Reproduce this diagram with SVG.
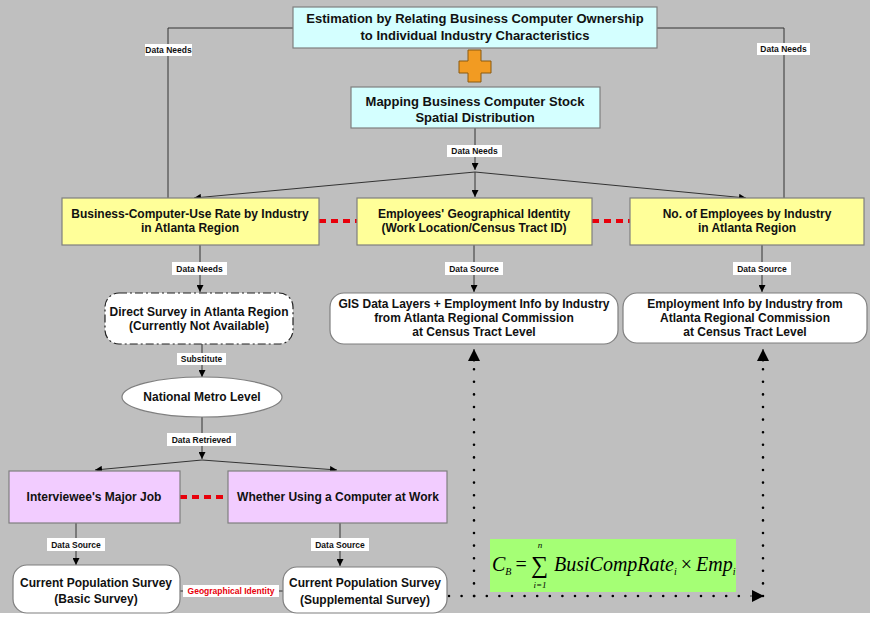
<svg xmlns="http://www.w3.org/2000/svg" width="870" height="617" viewBox="0 0 870 617">
<defs>
<style>
.bx{stroke:#7f7f7f;stroke-width:1.2}
.t{font-family:"Liberation Sans",Arial,sans-serif;font-weight:bold;font-size:12px;text-anchor:middle;fill:#111}
.tb{font-size:13px}
.l{font-family:"Liberation Sans",Arial,sans-serif;font-weight:bold;font-size:8.5px;text-anchor:middle;fill:#111}
.lr{fill:#fff}
.c{fill:none;stroke:#333;stroke-width:1}
.rd{fill:none;stroke:#e8000b;stroke-width:4;stroke-dasharray:7 5}
.dt{fill:none;stroke:#000;stroke-width:2.6;stroke-linecap:round;stroke-dasharray:0 12.6}
.m{font-family:"Liberation Serif","Times New Roman",serif;font-style:italic;fill:#000}
.up{font-style:normal}
</style>
<marker id="a" viewBox="0 0 10 10" refX="10" refY="5" markerWidth="7" markerHeight="7" markerUnits="userSpaceOnUse" orient="auto"><path d="M0,0L10,5L0,10z" fill="#000"/></marker>
<marker id="b" viewBox="0 0 10 10" refX="10" refY="5" markerWidth="13" markerHeight="12" markerUnits="userSpaceOnUse" orient="auto"><path d="M0,0L10,5L0,10z" fill="#000"/></marker>
</defs>
<rect x="0" y="0" width="870" height="617" fill="#bfbfbf"/>
<rect x="0" y="613" width="870" height="4" fill="#fff"/>

<g id="connectors">
<polyline class="c" points="293,28 168,28 168,198"/>
<polyline class="c" points="657,28 784,28 784,198"/>
<line class="c" x1="475" y1="128" x2="475" y2="170" marker-end="url(#a)"/>
<line class="c" x1="475" y1="172" x2="475" y2="197" marker-end="url(#a)"/>
<line class="c" x1="475" y1="172" x2="194" y2="198" marker-end="url(#a)"/>
<line class="c" x1="475" y1="172" x2="746" y2="198" marker-end="url(#a)"/>
<line class="rd" x1="319" y1="221" x2="357" y2="221"/>
<line class="rd" x1="592" y1="221" x2="630" y2="221"/>
<line class="c" x1="200" y1="245" x2="200" y2="292" marker-end="url(#a)"/>
<line class="c" x1="474" y1="245" x2="474" y2="292" marker-end="url(#a)"/>
<line class="c" x1="762" y1="245" x2="762" y2="292" marker-end="url(#a)"/>
<line class="c" x1="202" y1="344" x2="202" y2="377" marker-end="url(#a)"/>
<line class="c" x1="202" y1="417" x2="202" y2="459" marker-end="url(#a)"/>
<line class="c" x1="202" y1="460" x2="95" y2="470" marker-end="url(#a)"/>
<line class="c" x1="202" y1="460" x2="337" y2="470" marker-end="url(#a)"/>
<line class="rd" x1="180" y1="497" x2="228" y2="497"/>
<line class="c" x1="76" y1="523" x2="76" y2="565" marker-end="url(#a)"/>
<line class="c" x1="340" y1="523" x2="340" y2="566" marker-end="url(#a)"/>
<line class="c" x1="180" y1="591" x2="283" y2="591" stroke="#999"/>
<line class="dt" x1="449" y1="596" x2="750" y2="596"/>
<line class="c" x1="750" y1="596" x2="764" y2="596" stroke="none" marker-end="url(#b)"/>
<line class="dt" x1="474" y1="596" x2="474" y2="362"/>
<line class="c" x1="474" y1="362" x2="474" y2="349" stroke="none" marker-end="url(#b)"/>
<line class="dt" x1="763" y1="596" x2="763" y2="362"/>
<line class="c" x1="763" y1="362" x2="763" y2="349" stroke="none" marker-end="url(#b)"/>

<rect class="lr" x="145" y="44" width="47" height="12"/><text class="l" x="168.5" y="53" font-weight="normal">Data Needs</text>
<rect class="lr" x="757" y="43" width="53" height="12"/><text class="l" x="783.5" y="52" font-weight="normal">Data Needs</text>
<rect class="lr" x="447" y="145" width="55" height="12"/><text class="l" x="474.5" y="154">Data Needs</text>
<rect class="lr" x="172" y="262" width="55" height="13"/><text class="l" x="199.5" y="271.5">Data Needs</text>
<rect class="lr" x="445" y="262" width="58" height="13"/><text class="l" x="474" y="271.5">Data Source</text>
<rect class="lr" x="733" y="262" width="58" height="13"/><text class="l" x="762" y="271.5">Data Source</text>
<rect class="lr" x="177" y="353" width="49" height="12"/><text class="l" x="201.5" y="362">Substitute</text>
<rect class="lr" x="167" y="433" width="69" height="13"/><text class="l" x="201.5" y="442.5">Data Retrieved</text>
<rect class="lr" x="47" y="538" width="58" height="13"/><text class="l" x="76" y="547.5">Data Source</text>
<rect class="lr" x="311" y="538" width="58" height="13"/><text class="l" x="340" y="547.5">Data Source</text>
<rect class="lr" x="183" y="585" width="96" height="12"/><text class="l" x="231" y="594" style="fill:#e8000b">Geographical Identity</text>
</g>

<g id="n-estimation">
<rect class="bx" x="293" y="7" width="364" height="41" fill="#d4ffff"/>
<text class="t tb" x="475" y="22.5">Estimation by Relating Business Computer Ownership</text>
<text class="t tb" x="475" y="39.5">to Individual Industry Characteristics</text>
</g>
<g id="n-plus">
<path d="M468,50H481V61H491V73H481V82H468V73H459V61H468Z" fill="#f29b22" stroke="#8a5a10" stroke-width="1"/>
</g>
<g id="n-mapping">
<rect class="bx" x="351" y="87" width="249" height="41" fill="#d4ffff"/>
<text class="t tb" x="475" y="105.5">Mapping Business Computer Stock</text>
<text class="t tb" x="475" y="121.5">Spatial Distribution</text>
</g>
<g id="n-rate">
<rect class="bx" x="62" y="198" width="257" height="47" fill="#ffff99"/>
<text class="t" x="190" y="218">Business-Computer-Use Rate by Industry</text>
<text class="t" x="190" y="232">in Atlanta Region</text>
</g>
<g id="n-geoid">
<rect class="bx" x="357" y="198" width="235" height="47" fill="#ffff99"/>
<text class="t" x="474" y="218">Employees' Geographical Identity</text>
<text class="t" x="474" y="232">(Work Location/Census Tract ID)</text>
</g>
<g id="n-employees">
<rect class="bx" x="630" y="198" width="234" height="47" fill="#ffff99"/>
<text class="t" x="747" y="218">No. of Employees by Industry</text>
<text class="t" x="747" y="232">in Atlanta Region</text>
</g>
<g id="n-direct">
<rect x="105" y="293" width="188" height="51" rx="14" fill="#fff" stroke="#222" stroke-width="1.2" stroke-dasharray="8 3 2 3"/>
<text class="t" x="199" y="316">Direct Survey in Atlanta Region</text>
<text class="t" x="199" y="330">(Currently Not Available)</text>
</g>
<g id="n-gis">
<rect class="bx" x="330" y="293" width="288" height="51" rx="14" fill="#fff"/>
<text class="t" x="474" y="308">GIS Data Layers + Employment Info by Industry</text>
<text class="t" x="474" y="322">from Atlanta Regional Commission</text>
<text class="t" x="474" y="336">at Census Tract Level</text>
</g>
<g id="n-empinfo">
<rect class="bx" x="623" y="293" width="244" height="50" rx="14" fill="#fff"/>
<text class="t" x="745" y="308">Employment Info by Industry from</text>
<text class="t" x="745" y="322">Atlanta Regional Commission</text>
<text class="t" x="745" y="336">at Census Tract Level</text>
</g>
<g id="n-metro">
<ellipse class="bx" cx="202" cy="397" rx="80" ry="20" fill="#fff"/>
<text class="t" x="202" y="401">National Metro Level</text>
</g>
<g id="n-job">
<rect class="bx" x="9" y="471" width="171" height="52" fill="#f2ccff"/>
<text class="t" x="94" y="501">Interviewee's Major Job</text>
</g>
<g id="n-computer">
<rect class="bx" x="228" y="471" width="219" height="52" fill="#f2ccff"/>
<text class="t" x="338" y="501">Whether Using a Computer at Work</text>
</g>
<g id="n-basic">
<rect class="bx" x="13" y="565" width="167" height="48" rx="14" fill="#fff"/>
<text class="t" x="96" y="587">Current Population Survey</text>
<text class="t" x="96" y="603">(Basic Survey)</text>
</g>
<g id="n-supp">
<rect class="bx" x="283" y="567" width="164" height="46" rx="14" fill="#fff"/>
<text class="t" x="365" y="587">Current Population Survey</text>
<text class="t" x="365" y="604">(Supplemental Survey)</text>
</g>
<g id="n-formula">
<rect x="490" y="539" width="246" height="53" fill="#a5ff75"/>
<text class="m" x="492" y="571" font-size="20">C<tspan font-size="10" dy="4">B</tspan><tspan class="up" dy="-4" dx="4">=</tspan></text>
<text x="531" y="573" font-size="24" font-family="Liberation Serif,serif">∑</text>
<text class="m" x="540" y="548" font-size="9" text-anchor="middle">n</text>
<text class="m" x="540" y="588" font-size="9" text-anchor="middle">i=1</text>
<text class="m" x="554" y="571" font-size="20">BusiCompRate<tspan font-size="10" dy="4">i</tspan><tspan class="up" dy="-4" dx="4">×</tspan><tspan dx="4">Emp</tspan><tspan font-size="10" dy="4">i</tspan></text>
</g>
</svg>
